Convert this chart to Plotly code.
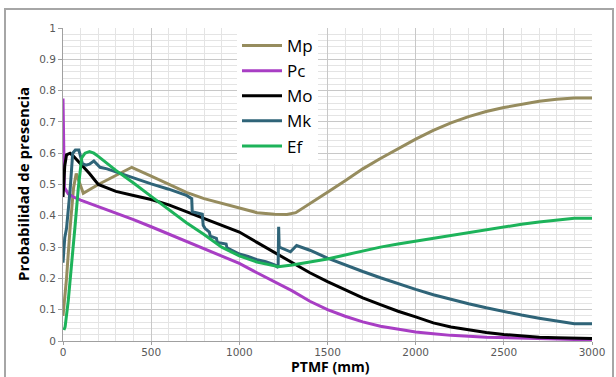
import plotly.graph_objects as go

# ---------------- data ----------------
mp_x = [0, 20, 40, 60, 75, 95, 115, 200, 300, 390, 500, 600, 700, 800, 900, 1000, 1100, 1200, 1270, 1320,
        1400, 1500, 1600, 1700, 1800, 1900, 2000, 2100, 2200, 2300, 2400, 2500, 2600, 2700, 2800, 2900, 3000]
mp_y = [0.08, 0.2, 0.36, 0.49, 0.535, 0.5, 0.472, 0.5, 0.53, 0.555, 0.527, 0.5, 0.475, 0.455, 0.44, 0.423, 0.41,
        0.405, 0.404, 0.41, 0.44, 0.475, 0.512, 0.55, 0.583, 0.615, 0.645, 0.673, 0.697, 0.717, 0.733, 0.746,
        0.757, 0.766, 0.772, 0.776, 0.776]

pc_x = [0, 3, 8, 30, 60, 100, 200, 300, 400, 500, 600, 700, 800, 900, 1000, 1100, 1200, 1300, 1400, 1500,
        1600, 1700, 1800, 1900, 2000, 2100, 2200, 2400, 2600, 2800, 2900, 3000]
pc_y = [0.775, 0.6, 0.49, 0.47, 0.46, 0.45, 0.43, 0.41, 0.388, 0.365, 0.342, 0.318, 0.295, 0.272, 0.248, 0.218,
        0.19, 0.16, 0.127, 0.1, 0.079, 0.061, 0.047, 0.037, 0.029, 0.023, 0.018, 0.012, 0.008, 0.006, 0.005, 0.005]

mo_x = [0, 10, 20, 40, 60, 100, 150, 200, 250, 300, 400, 500, 600, 700, 800, 900, 1000, 1100, 1200, 1300,
        1400, 1500, 1600, 1700, 1800, 1900, 2000, 2100, 2200, 2300, 2400, 2500, 2600, 2700, 2800, 2900, 3000]
mo_y = [0.46, 0.56, 0.595, 0.6, 0.59, 0.565, 0.535, 0.5, 0.488, 0.478, 0.465, 0.452, 0.435, 0.413, 0.39, 0.37,
        0.348, 0.315, 0.282, 0.25, 0.218, 0.19, 0.163, 0.138, 0.116, 0.095, 0.077, 0.058, 0.045, 0.035, 0.027,
        0.021, 0.016, 0.012, 0.01, 0.008, 0.008]

mk_x = [0, 10, 20, 40, 55, 70, 90, 110, 130, 150, 175, 195, 210, 250, 300, 400, 500, 600, 700, 730, 733, 790,
        795, 805, 830, 835, 870, 875, 925, 930, 950, 1000, 1050, 1100, 1150, 1200, 1220, 1223, 1226, 1240, 1290,
        1325, 1400, 1500, 1600, 1700, 1800, 1900, 2000, 2100, 2200, 2300, 2400, 2500, 2600, 2700, 2800, 2900, 3000]
mk_y = [0.25, 0.33, 0.36, 0.48, 0.6, 0.61, 0.61, 0.567, 0.562, 0.565, 0.575, 0.562, 0.555, 0.55, 0.54, 0.52,
        0.502, 0.485, 0.465, 0.455, 0.413, 0.405, 0.37, 0.36, 0.348, 0.335, 0.328, 0.315, 0.31, 0.298, 0.293,
        0.278, 0.27, 0.26, 0.253, 0.243, 0.235, 0.365, 0.3, 0.297, 0.285, 0.305, 0.29, 0.265, 0.243, 0.222,
        0.202, 0.183, 0.165, 0.148, 0.133, 0.119, 0.106, 0.094, 0.083, 0.073, 0.064, 0.055, 0.055]

ef_x = [5, 12, 30, 49, 68, 87, 106, 125, 150, 175, 200, 300, 400, 500, 600, 700, 800, 900, 1000, 1100, 1200,
        1220, 1300, 1400, 1500, 1600, 1700, 1800, 1900, 2000, 2100, 2200, 2300, 2400, 2500, 2600, 2700, 2800,
        2900, 3000]
ef_y = [0.035, 0.045, 0.13, 0.237, 0.365, 0.49, 0.585, 0.6, 0.605, 0.6, 0.59, 0.545, 0.505, 0.462, 0.42, 0.378,
        0.34, 0.3, 0.272, 0.252, 0.24, 0.237, 0.243, 0.252, 0.262, 0.275, 0.288, 0.3, 0.31, 0.319, 0.328, 0.338,
        0.347, 0.357, 0.366, 0.373, 0.38, 0.386, 0.392, 0.392]

series = [
    ("Mp", mp_x, mp_y, "#968C5E"),
    ("Pc", pc_x, pc_y, "#A83EC4"),
    ("Mo", mo_x, mo_y, "#000000"),
    ("Mk", mk_x, mk_y, "#2F6478"),
    ("Ef", ef_x, ef_y, "#1DB35A"),
]

x_ticks = [0, 500, 1000, 1500, 2000, 2500, 3000]
y_ticks = [0, 0.1, 0.2, 0.3, 0.4, 0.5, 0.6, 0.7, 0.8, 0.9, 1]
y_tick_text = ["0", "0.1", "0.2", "0.3", "0.4", "0.5", "0.6", "0.7", "0.8", "0.9", "1"]
x_title = "PTMF (mm)"
y_title = "Probabilidad de presencia"

fig = go.Figure()
for name, xs, ys, col in series:
    fig.add_trace(go.Scatter(x=xs, y=ys, mode="lines", name=name, legendgroup=name,
                             line=dict(color=col, width=3)))

W, H = 616, 377
L, R, T, B = 63, 24, 28, 36
pw, ph = W - L - R, H - T - B

def px(xp):
    return (xp - L) / pw

def py(yp):
    return (H - B - yp) / ph

tickfont = dict(family="DejaVu Sans, sans-serif", size=10.5, color="#595959")
titlefont = dict(family="Open Sans, Lato, sans-serif", size=14, color="#000000")

fig.update_layout(
    width=W, height=H,
    margin=dict(l=L, r=R, t=T, b=B),
    paper_bgcolor="white", plot_bgcolor="white",
    showlegend=True,
    legend=dict(x=px(237), y=1.0, xanchor="left", yanchor="top",
                bgcolor="white", borderwidth=0,
                font=dict(family="Open Sans, Lato, sans-serif", size=17, color="#000000"),
                tracegroupgap=0, itemwidth=40),
    xaxis=dict(range=[0, 3000], tickvals=x_ticks, ticktext=[str(v) for v in x_ticks],
               tickfont=tickfont, showgrid=True, gridcolor="#C8C8C8", gridwidth=1,
               minor=dict(dtick=100, showgrid=True, gridcolor="#E4E4E4", gridwidth=1),
               showline=True, linecolor="#A0A0A0", linewidth=1,
               ticks="outside", ticklen=3, tickcolor="#A0A0A0", ticklabelstandoff=-2,
               zeroline=False, automargin=False),
    yaxis=dict(range=[0, 1], tickvals=y_ticks, ticktext=y_tick_text,
               tickfont=tickfont, showgrid=True, gridcolor="#C8C8C8", gridwidth=1,
               minor=dict(dtick=0.02, showgrid=True, gridcolor="#E4E4E4", gridwidth=1),
               showline=True, linecolor="#A0A0A0", linewidth=1,
               ticks="outside", ticklen=4, tickcolor="#A0A0A0",
               zeroline=False, automargin=False),
    annotations=[
        dict(text="<b>" + x_title + "</b>", xref="paper", yref="paper", x=px(330), y=py(376.5),
             xanchor="center", yanchor="bottom", showarrow=False, font=titlefont, borderpad=0),
        dict(text="<b>" + y_title + "</b>", xref="paper", yref="paper", x=px(23), y=py(184),
             xanchor="center", yanchor="middle", showarrow=False, textangle=-90,
             font=dict(family="Open Sans, Lato, sans-serif", size=15, color="#000000")),
    ],
    shapes=[dict(type="rect", xref="paper", yref="paper",
                 x0=px(5), x1=px(613), y0=py(385), y1=py(9),
                 line=dict(color="#A6A6A6", width=2), fillcolor="rgba(0,0,0,0)", layer="below")],
)

fig.write_html("out.html")
